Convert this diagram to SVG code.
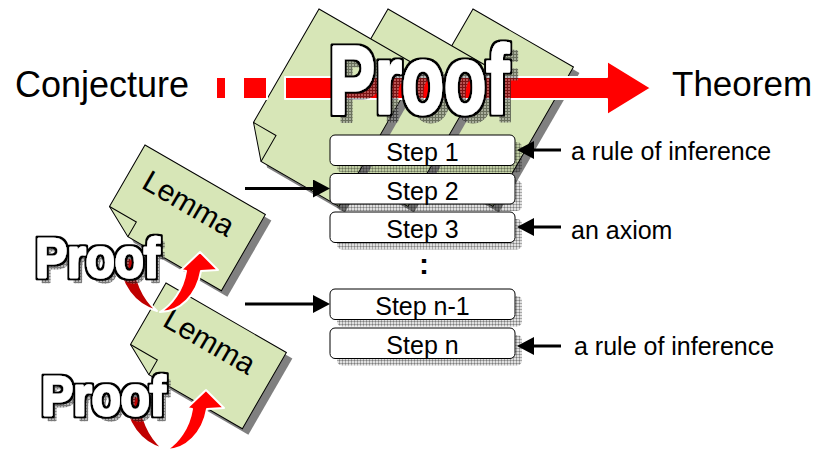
<svg xmlns="http://www.w3.org/2000/svg" width="816" height="450" viewBox="0 0 816 450">
<defs>
  <pattern id="hatchL" width="3" height="3" patternUnits="userSpaceOnUse">
    <rect width="3" height="3" fill="#000" fill-opacity="0.12"/>
    <rect width="3" height="1" fill="#000" fill-opacity="0.25"/>
    <rect width="1" height="3" fill="#000" fill-opacity="0.25"/>
  </pattern>
  <pattern id="hatchO" width="3" height="3" patternUnits="userSpaceOnUse">
    <rect width="3" height="3" fill="#8a8a8a"/>
    <rect width="3" height="1" fill="#222"/>
    <rect width="1" height="3" fill="#222"/>
  </pattern>
  <filter id="outline" x="-10%" y="-15%" width="120%" height="130%">
    <feMorphology in="SourceAlpha" operator="dilate" radius="2" result="d"/>
    <feFlood flood-color="#000"/>
    <feComposite in2="d" operator="in" result="o"/>
    <feMerge><feMergeNode in="o"/><feMergeNode in="SourceGraphic"/></feMerge>
  </filter>
  <path id="pg" d="M0,0H116V161H26L0,131Z"/>
  <path id="pgf" d="M0,131H26V161"/>
  <path id="lm" d="M0,0H139V88H31L0,71Z"/>
  <path id="lmf" d="M0,71H31V88"/>
  <g id="curl">
    <path class="dred" d="M119,258 C119,285 135,305 157,311 C145,300 135,285 134,258 Z"/>
  </g>
  <g id="curlf">
    <path class="red" d="M160,312 C180,312 197,295 201,271 L218,270 L200,252 L181,270 L186,271 C183,290 172,305 160,312 Z"/>
  </g>
  <marker id="ah" markerUnits="userSpaceOnUse" markerWidth="17" markerHeight="18" viewBox="0 0 17 18" refX="5" refY="9" orient="auto">
    <path d="M0,0 L17,9 L0,18 Z" fill="#000"/>
  </marker>
</defs>
<style>
  .pg{fill:#D7E6B7;stroke:#000;stroke-width:1}
  .sh{fill:#808080}
  .flap{fill:none;stroke:#000;stroke-width:1}
  .step{fill:#fff;stroke:#000;stroke-width:1}
  .stsh{fill:url(#hatchL)}
  .t{font-family:"Liberation Sans",Arial,sans-serif;fill:#000}
  .bf{font-family:"Liberation Sans",Arial,sans-serif;font-weight:bold;stroke-linejoin:round}
  .bi{fill:#fff;stroke:#fff;filter:url(#outline)}
  .bs{fill:url(#hatchO);stroke:url(#hatchO)}
  .red{fill:#f00;stroke:#fff;stroke-width:2;stroke-linejoin:round}
  .dred{fill:#C00000;stroke:#fff;stroke-width:2;stroke-linejoin:round}
  .conn line{stroke:#000;stroke-width:3;marker-end:url(#ah)}
</style>

<!-- proof pages -->
<g id="page3">
  <use href="#pg" class="sh" transform="translate(479,15) rotate(30)"/>
  <g transform="translate(473,9) rotate(30)"><use href="#pg" class="pg"/><use href="#pgf" class="flap"/></g>
</g>
<g id="page2">
  <use href="#pg" class="sh" transform="translate(394,15) rotate(30)"/>
  <g transform="translate(388,9) rotate(30)"><use href="#pg" class="pg"/><use href="#pgf" class="flap"/></g>
</g>
<g id="page1">
  <use href="#pg" class="sh" transform="translate(325,15) rotate(30)"/>
  <g transform="translate(319,9) rotate(30)"><use href="#pg" class="pg"/><use href="#pgf" class="flap"/></g>
</g>

<!-- main arrow -->
<g id="main-arrow">
  <rect class="red" x="216" y="77" width="10" height="22"/>
  <rect class="red" x="243" y="77" width="24" height="22"/>
  <path class="red" d="M285,77 H607 V61 L651,88 L607,115 V99 H285 Z"/>
</g>

<g id="proof-title">
  <g opacity="0.6">
    <text class="bf bs" x="337" y="121" font-size="97" stroke-width="3" textLength="180" lengthAdjust="spacingAndGlyphs">Proof</text>
  </g>
  <text class="bf bi" x="329" y="113" font-size="97" stroke-width="3" textLength="180" lengthAdjust="spacingAndGlyphs">Proof</text>
</g>

<g id="conjecture"><text class="t" x="15" y="97" font-size="36">Conjecture</text></g>
<g id="theorem"><text class="t" x="672" y="96" font-size="35">Theorem</text></g>

<!-- steps -->
<g id="step1">
  <rect class="stsh" x="337" y="142" width="185" height="30.5" rx="5"/>
  <rect class="step" x="330" y="135" width="185" height="30.5" rx="5"/>
  <text class="t" x="422.5" y="161" font-size="25" text-anchor="middle">Step 1</text>
</g>
<g id="step2">
  <rect class="stsh" x="337" y="180.5" width="185" height="30.5" rx="5"/>
  <rect class="step" x="330" y="173.5" width="185" height="30.5" rx="5"/>
  <text class="t" x="422.5" y="199.5" font-size="25" text-anchor="middle">Step 2</text>
</g>
<g id="step3">
  <rect class="stsh" x="337" y="219" width="185" height="30.5" rx="5"/>
  <rect class="step" x="330" y="212" width="185" height="30.5" rx="5"/>
  <text class="t" x="422.5" y="238" font-size="25" text-anchor="middle">Step 3</text>
</g>
<g id="ellipsis"><text class="t" x="424" y="274" font-size="30" font-weight="bold" text-anchor="middle">:</text></g>
<g id="step-n-1">
  <rect class="stsh" x="337" y="296" width="185" height="30.5" rx="5"/>
  <rect class="step" x="330" y="289" width="185" height="30.5" rx="5"/>
  <text class="t" x="422.5" y="315" font-size="25" text-anchor="middle">Step n-1</text>
</g>
<g id="step-n">
  <rect class="stsh" x="337" y="335" width="185" height="30.5" rx="5"/>
  <rect class="step" x="330" y="328" width="185" height="30.5" rx="5"/>
  <text class="t" x="422.5" y="354" font-size="25" text-anchor="middle">Step n</text>
</g>

<!-- lemmas -->
<g id="lemma1">
  <use href="#lm" class="sh" transform="translate(151,151) rotate(30)"/>
  <g transform="translate(145,145) rotate(30)">
    <use href="#lm" class="pg"/><use href="#lmf" class="flap"/>
    <text class="t" x="67" y="39" font-size="30" text-anchor="middle">Lemma</text>
  </g>
</g>
<g id="lemma2">
  <use href="#lm" class="sh" transform="translate(172,289) rotate(30)"/>
  <g transform="translate(166,283) rotate(30)">
    <use href="#lm" class="pg"/><use href="#lmf" class="flap"/>
    <text class="t" x="67" y="39" font-size="30" text-anchor="middle">Lemma</text>
  </g>
</g>

<g id="proof1">
  <use href="#curl"/>
  <g opacity="0.6">
    <text class="bf bs" x="39.5" y="282" font-size="55" stroke-width="2.5" textLength="124" lengthAdjust="spacingAndGlyphs">Proof</text>
  </g>
  <text class="bf bi" x="35.5" y="277" font-size="55" stroke-width="2.5" textLength="124" lengthAdjust="spacingAndGlyphs">Proof</text>
  <use href="#curlf"/>
</g>
<g id="proof2" transform="translate(6,138)">
  <use href="#curl"/>
  <g opacity="0.6">
    <text class="bf bs" x="39.5" y="282" font-size="55" stroke-width="2.5" textLength="124" lengthAdjust="spacingAndGlyphs">Proof</text>
  </g>
  <text class="bf bi" x="35.5" y="277" font-size="55" stroke-width="2.5" textLength="124" lengthAdjust="spacingAndGlyphs">Proof</text>
  <use href="#curlf"/>
</g>

<!-- connectors -->
<g id="connectors" class="conn">
  <line x1="561" y1="150" x2="529" y2="150"/>
  <line x1="245" y1="188.5" x2="318" y2="188.5"/>
  <line x1="561" y1="227" x2="529" y2="227"/>
  <line x1="245" y1="304" x2="318" y2="304"/>
  <line x1="561" y1="346" x2="529" y2="346"/>
</g>

<g id="labels">
  <text class="t" x="571" y="160" font-size="25">a rule of inference</text>
  <text class="t" x="571" y="239" font-size="25">an axiom</text>
  <text class="t" x="574" y="355" font-size="25">a rule of inference</text>
</g>
</svg>
